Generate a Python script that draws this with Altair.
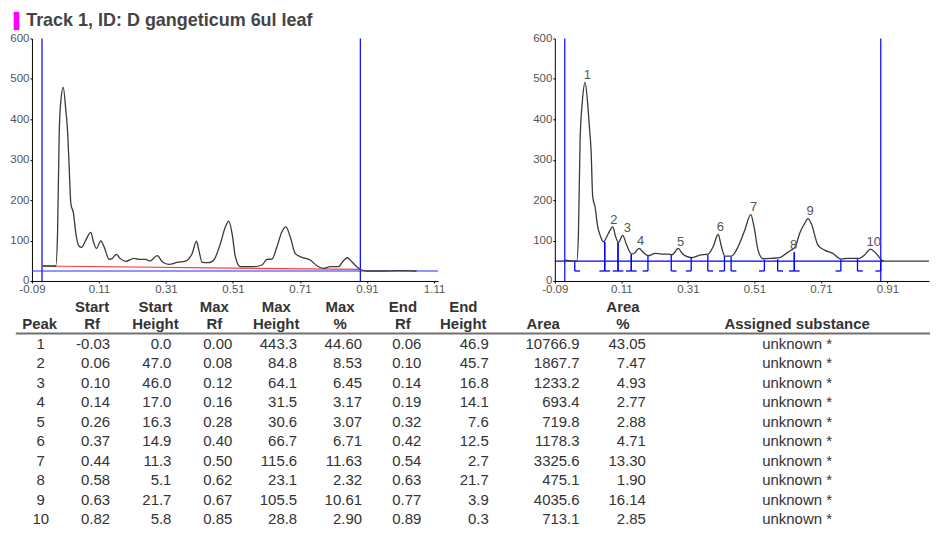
import altair as alt
import pandas as pd

# ---------------- data ----------------
title_text = "Track 1, ID: D gangeticum 6ul leaf"

# left panel: raw densitogram
left_rf = [-0.058, -0.019, -0.0136, -0.0087, -0.0037, 0.0033, 0.0112, 0.0162, 0.0211, 0.0261,
           0.034, 0.041, 0.0489, 0.0578, 0.0707, 0.0856, 0.0935, 0.1025, 0.1154, 0.1253,
           0.1402, 0.1501, 0.162, 0.1729, 0.1898, 0.2146, 0.2294, 0.2493, 0.2622, 0.284,
           0.2989, 0.3187, 0.3435, 0.3683, 0.3882, 0.4011, 0.408, 0.418, 0.4378, 0.4527,
           0.4725, 0.4874, 0.4973, 0.5072, 0.5171, 0.532, 0.5469, 0.5717, 0.5965, 0.6114,
           0.6263, 0.6412, 0.656, 0.6679, 0.6808, 0.6957, 0.7155, 0.7404, 0.7602, 0.78,
           0.7999, 0.8247, 0.8396, 0.8515, 0.8644, 0.8792, 0.8941, 0.909, 0.9586, 1.0082, 1.0578]
left_signal = [37.0, 37.0, 117.5, 364.0, 446.0, 479.0, 421.6, 372.0, 282.0, 191.5,
               167.0, 117.5, 88.8, 83.0, 101.0, 120.0, 97.0, 80.5, 99.4, 84.7,
               53.4, 55.9, 65.8, 55.9, 48.5, 55.9, 53.4, 53.4, 49.3, 62.5,
               47.7, 41.1, 46.0, 49.3, 68.2, 98.6, 76.4, 46.0, 45.2, 51.8,
               92.9, 134.0, 148.0, 117.5, 60.0, 35.3, 35.3, 35.3, 39.5, 53.4,
               54.2, 84.7, 121.6, 134.0, 109.3, 68.2, 58.4, 51.8, 37.8, 31.2,
               35.3, 35.3, 50.1, 57.5, 47.7, 35.3, 27.1, 24.7, 24.7, 25.5, 24.7]

left_baseline_rf = [-0.06, 0.89]
left_baseline_val = [37.0, 28.5]
left_floor_level = [24.7]
window_rf = [-0.06, 0.89]

# right panel: integrated densitogram
right_rf = [-0.059, -0.024, -0.019, -0.014, -0.007, 0.001, 0.008, 0.014, 0.019, 0.024,
            0.031, 0.039, 0.046, 0.056, 0.071, 0.084, 0.093, 0.101, 0.114, 0.126,
            0.141, 0.151, 0.163, 0.176, 0.191, 0.211, 0.231, 0.251, 0.263, 0.281,
            0.293, 0.321, 0.346, 0.371, 0.386, 0.401, 0.411, 0.421, 0.441, 0.461,
            0.481, 0.499, 0.509, 0.521, 0.536, 0.561, 0.586, 0.606, 0.621, 0.633,
            0.646, 0.661, 0.671, 0.681, 0.701, 0.721, 0.746, 0.771, 0.791, 0.826,
            0.841, 0.859, 0.876, 0.899, 0.97, 1.035]
right_signal = [51.8, 49.3, 117.5, 347.7, 446.3, 491.5, 446.3, 380.5, 323.0, 208.0,
                183.3, 134.0, 113.4, 97.0, 117.5, 134.0, 109.3, 95.3, 112.6, 88.8,
                66.6, 69.9, 80.5, 70.7, 62.5, 68.2, 66.6, 66.6, 64.9, 80.5,
                68.2, 57.5, 64.1, 66.6, 84.7, 115.0, 84.7, 61.6, 61.6, 84.7,
                125.7, 164.4, 134.0, 76.4, 55.0, 55.9, 57.5, 68.2, 76.4, 84.7,
                117.5, 142.2, 154.5, 142.2, 88.8, 76.4, 68.2, 54.2, 55.9, 55.9,
                64.1, 78.9, 68.2, 49.3, 49.3, 49.3]
right_baseline_level = 49.3
right_baseline_rf = [-0.09, 0.899]
marker_floor = 24.7

# peak table
peak = [1, 2, 3, 4, 5, 6, 7, 8, 9, 10]
start_rf = [-0.03, 0.06, 0.10, 0.14, 0.26, 0.37, 0.44, 0.58, 0.63, 0.82]
start_height = [0.0, 47.0, 46.0, 17.0, 16.3, 14.9, 11.3, 5.1, 21.7, 5.8]
max_rf = [0.00, 0.08, 0.12, 0.16, 0.28, 0.40, 0.50, 0.62, 0.67, 0.85]
max_height = [443.3, 84.8, 64.1, 31.5, 30.6, 66.7, 115.6, 23.1, 105.5, 28.8]
max_pct = [44.60, 8.53, 6.45, 3.17, 3.07, 6.71, 11.63, 2.32, 10.61, 2.90]
end_rf = [0.06, 0.10, 0.14, 0.19, 0.32, 0.42, 0.54, 0.63, 0.77, 0.89]
end_height = [46.9, 45.7, 16.8, 14.1, 7.6, 12.5, 2.7, 21.7, 3.9, 0.3]
area = [10766.9, 1867.7, 1233.2, 693.4, 719.8, 1178.3, 3325.6, 475.1, 4035.6, 713.1]
area_pct = [43.05, 7.47, 4.93, 2.77, 2.88, 4.71, 13.30, 1.90, 16.14, 2.85]
substance = ["unknown *"] * 10

left_ticks = [-0.09, 0.11, 0.31, 0.51, 0.71, 0.91, 1.11]
right_ticks = [-0.09, 0.11, 0.31, 0.51, 0.71, 0.91]
y_ticks = [0, 100, 200, 300, 400, 500, 600]

# ---------------- styles / layout ----------------
FONT = "Liberation Sans"
BLUE = "#0000ff"
TRACE = "#3a3a3a"
LABEL = "#555555"
TXT = "#333333"
TICK_W = 0.016

label_expr = "datum.value < 0 ? '-' + format(-datum.value, '.2f') : format(datum.value, '.2f')"


def x_axis(vals):
    return alt.Axis(values=vals, labelExpr=label_expr, title=None, grid=False,
                    labelFlush=False, labelOverlap=False)


y_axis = alt.Axis(values=y_ticks, title=None, grid=False, labelFlush=False, labelOverlap=False)
Y = alt.Scale(domain=[0, 600], nice=False, zero=False)

# ---------------- left panel ----------------
LX = alt.Scale(domain=[-0.09, 1.122], nice=False, zero=False)
lx = alt.X("rf:Q", scale=LX, axis=x_axis(left_ticks), title=None)
ly = alt.Y("signal:Q", scale=Y, axis=y_axis, title=None)

left_trace = alt.Chart(pd.DataFrame({"rf": left_rf, "signal": left_signal})).mark_line(
    color=TRACE, strokeWidth=1.3, interpolate="monotone").encode(x=lx, y=ly)
left_red = alt.Chart(pd.DataFrame({"rf": left_baseline_rf, "signal": left_baseline_val})).mark_line(
    color="#ff3b3b", strokeWidth=1.2).encode(x=lx, y=ly)
left_floor = alt.Chart(pd.DataFrame({"signal": left_floor_level})).mark_rule(
    color="#2a2aff", strokeWidth=1.2).encode(y=ly)
left_window = alt.Chart(pd.DataFrame({"rf": window_rf})).mark_rule(
    color=BLUE, strokeWidth=1.2).encode(x=lx)
title_df = pd.DataFrame({"t": [title_text]})
title_bar = alt.Chart(title_df).mark_rect(color="#ff00ff").encode(
    x=alt.value(-18.3), x2=alt.value(-12.7), y=alt.value(-26.7), y2=alt.value(-8.4))
title_label = alt.Chart(title_df).mark_text(
    align="left", baseline="middle", fontSize=18, fontWeight="bold", color="#444444", font=FONT
).encode(x=alt.value(-5.8), y=alt.value(-17.5), text="t:N")

left = alt.layer(left_window, left_floor, left_red, left_trace, title_bar, title_label).properties(
    width=407, height=243)

# ---------------- right panel ----------------
RX = alt.Scale(domain=[-0.09, 1.035], nice=False, zero=False)
rx = alt.X("rf:Q", scale=RX, axis=x_axis(right_ticks), title=None)
ry = alt.Y("signal:Q", scale=Y, axis=y_axis, title=None)

right_trace = alt.Chart(pd.DataFrame({"rf": right_rf, "signal": right_signal})).mark_line(
    color=TRACE, strokeWidth=1.3, interpolate="monotone").encode(x=rx, y=ry)
right_base = alt.Chart(pd.DataFrame({"rf": right_baseline_rf,
                                     "signal": [right_baseline_level] * 2})).mark_line(
    color=BLUE, strokeWidth=1.2).encode(x=rx, y=ry)
right_window = alt.Chart(pd.DataFrame({"rf": window_rf})).mark_rule(
    color=BLUE, strokeWidth=1.2).encode(x=rx)

starts = pd.DataFrame({"rf": start_rf,
                       "signal": [right_baseline_level + h for h in start_height],
                       "rf2": [r + TICK_W for r in start_rf]})
ends = pd.DataFrame({"rf": end_rf,
                     "signal": [right_baseline_level + h for h in end_height],
                     "rf2": [r - TICK_W for r in end_rf]})
bounds_df = pd.concat([starts, ends], ignore_index=True)
bounds_df["floor"] = marker_floor

marker_v = alt.Chart(bounds_df).mark_rule(color=BLUE, strokeWidth=1.3).encode(
    x=rx, y=ry, y2="floor:Q")
marker_h = alt.Chart(bounds_df).mark_rule(color=BLUE, strokeWidth=1.3).encode(
    x=rx, x2="rf2:Q", y=alt.Y("floor:Q", scale=Y, axis=y_axis, title=None))

labels_df = pd.DataFrame({"rf": max_rf,
                          "signal": [right_baseline_level + h for h in max_height],
                          "lbl": [str(p) for p in peak]})
peak_labels = alt.Chart(labels_df).mark_text(
    align="left", baseline="bottom", dx=-1, dy=0, fontSize=13, color=LABEL, font=FONT
).encode(x=rx, y=ry, text="lbl:N")

right = alt.layer(right_window, right_base, marker_v, marker_h, right_trace,
                  peak_labels).properties(width=375, height=243)

top = alt.hconcat(left, right, spacing=87)

# ---------------- table ----------------
ORIGIN_X = 31.2       # page x of the table view origin (aligned with left plot)
TABLE_TOP = 295.3     # page y of the table view top
ROW0 = 343.5          # page y of first data row
ROW_H = 19.5
TABLE_H = 229.5
TABLE_W = 900
TX = alt.Scale(domain=[ORIGIN_X, ORIGIN_X + TABLE_W], nice=False, zero=False)
TY = alt.Scale(domain=[TABLE_TOP, TABLE_TOP + TABLE_H], nice=False, zero=False, reverse=True)

columns = [
    # header1, header2, values, value anchor, value align, header center
    ("", "Peak", [str(p) for p in peak], 40, "center", 39),
    ("Start", "Rf", [f"{v:.2f}" for v in start_rf], 109.5, "right", 91.5),
    ("Start", "Height", [f"{v:.1f}" for v in start_height], 171, "right", 155),
    ("Max", "Rf", [f"{v:.2f}" for v in max_rf], 232, "right", 214),
    ("Max", "Height", [f"{v:.1f}" for v in max_height], 297, "right", 276),
    ("Max", "%", [f"{v:.2f}" for v in max_pct], 362, "right", 340),
    ("End", "Rf", [f"{v:.2f}" for v in end_rf], 421.5, "right", 403),
    ("End", "Height", [f"{v:.1f}" for v in end_height], 489, "right", 463.5),
    ("", "Area", [f"{v:.1f}" for v in area], 580, "right", 543.5),
    ("Area", "%", [f"{v:.2f}" for v in area_pct], 646.5, "right", 623.5),
    ("", "Assigned substance", substance, 798, "center", 798),
]
HEAD1_Y, HEAD2_Y, RULE_Y = 306.7, 323.0, 333.0

val_rows, head_rows = [], []
for h1, h2, vals, anchor, align, hc in columns:
    for i, v in enumerate(vals):
        val_rows.append({"x": anchor, "y": ROW0 + ROW_H * i, "label": v, "align": align})
    if h1:
        head_rows.append({"x": hc, "y": HEAD1_Y, "label": h1})
    head_rows.append({"x": hc, "y": HEAD2_Y, "label": h2})
vals_df = pd.DataFrame(val_rows)
head_df = pd.DataFrame(head_rows)

tx = alt.X("x:Q", scale=TX, axis=None)
ty = alt.Y("y:Q", scale=TY, axis=None)

vals_right = alt.Chart(vals_df[vals_df["align"] == "right"]).mark_text(
    align="right", baseline="middle", fontSize=15, color=TXT, font=FONT, clip=True
).encode(x=tx, y=ty, text="label:N")
vals_center = alt.Chart(vals_df[vals_df["align"] == "center"]).mark_text(
    align="center", baseline="middle", fontSize=15, color=TXT, font=FONT, clip=True
).encode(x=tx, y=ty, text="label:N")
heads = alt.Chart(head_df).mark_text(
    align="center", baseline="middle", fontSize=15, fontWeight="bold", color=TXT, font=FONT
).encode(x=tx, y=ty, text="label:N")
rule_df = pd.DataFrame({"x": [15], "x2": [ORIGIN_X + TABLE_W], "y": [RULE_Y]})
head_rule = alt.Chart(rule_df).mark_rule(color="#707070", strokeWidth=2).encode(
    x=tx, x2="x2:Q", y=ty)

table = alt.layer(head_rule, heads, vals_right, vals_center).properties(
    width=TABLE_W, height=TABLE_H)

chart = alt.vconcat(top, table, spacing=0).properties(
    padding={"left": 1, "top": 3, "right": 0, "bottom": 0}
).configure(font=FONT).configure_view(stroke=None).configure_axis(
    domainColor="#000000", tickColor="#000000", labelColor=LABEL, labelFontSize=11.5,
    labelFont=FONT, labelPadding=1, tickSize=2, domainWidth=1, grid=False)

chart.save("out.html", embed_options={"renderer": "svg", "actions": False})
